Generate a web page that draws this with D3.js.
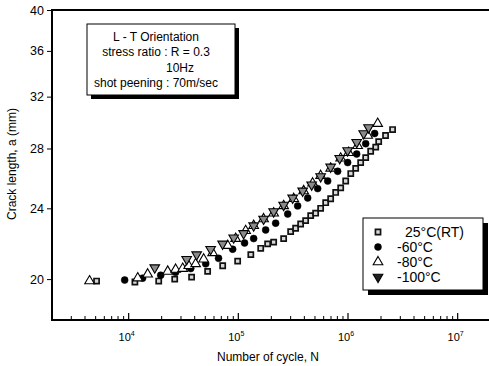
<!DOCTYPE html>
<html>
<head>
<meta charset="utf-8">
<script src="https://cdn.jsdelivr.net/npm/d3@7/dist/d3.min.js"></script>
<style>
  body { margin: 0; background: #fff; }
  svg text { font-family: Arial, "Liberation Sans", sans-serif; fill: #000; }
</style>
</head>
<body>
<div id="chart"></div>
<script>
// series: cycles N and crack length a (mm)
const seriesNames = ['25°C(RT)', '-60°C', '-80°C', '-100°C'];

const rtCycles = [5100, 11400, 18800, 26300, 37500, 52500, 72000, 98600, 130000, 160000, 185000, 210000, 259000, 300000, 333000, 370000, 411000, 457000, 507000, 563000, 626000, 695000, 772000, 858000, 953000, 1060000, 1175000, 1305000, 1450000, 1610000, 1790000, 1905000, 2200000, 2550000];
const rtLength = [19.9, 19.85, 19.9, 20.0, 20.1, 20.4, 20.7, 20.95, 21.3, 21.65, 21.9, 22.0, 22.2, 22.6, 22.8, 23.05, 23.25, 23.55, 23.7, 24.0, 24.35, 24.6, 25.0, 25.3, 25.75, 26.25, 26.6, 27.0, 27.35, 27.8, 28.1, 28.5, 28.95, 29.4];

const m60Cycles = [9200, 13400, 19600, 26800, 36800, 50400, 66000, 88800, 114000, 138000, 177500, 219000, 282000, 347500, 429000, 529000, 653000, 805000, 993000, 1200000, 1450000, 1750000];
const m60Length = [19.95, 20.05, 20.2, 20.35, 20.55, 20.8, 21.1, 21.6, 21.95, 22.2, 22.7, 23.1, 23.65, 24.15, 24.65, 25.25, 25.75, 26.4, 27.0, 27.6, 28.35, 29.1];

const m80Cycles = [4400, 12100, 14900, 22700, 26800, 31100, 35300, 40800, 48300, 58300, 80000, 94500, 116600, 138000, 170000, 210000, 259000, 320000, 394000, 476000, 563000, 695000, 857000, 1014000, 1225000, 1512000, 1865000];
const m80Length = [19.9, 20.05, 20.25, 20.4, 20.5, 20.55, 20.7, 20.8, 21.05, 21.4, 21.8, 22.2, 22.65, 22.95, 23.35, 23.7, 24.15, 24.6, 25.1, 25.6, 26.1, 26.6, 27.3, 27.7, 28.2, 28.95, 29.85];

const m100Cycles = [17300, 33800, 41700, 55900, 71900, 90700, 111800, 138000, 170000, 210000, 259000, 313000, 386000, 466000, 563000, 695000, 840000, 993000, 1200000, 1390000, 1540000];
const m100Length = [20.6, 21.05, 21.3, 21.6, 21.9, 22.25, 22.5, 22.95, 23.35, 23.8, 24.2, 24.65, 25.1, 25.5, 26.05, 26.7, 27.3, 27.85, 28.45, 29.1, 29.55];

const yTicks = [20, 24, 28, 32, 36, 40];
const xDecades = [1e4, 1e5, 1e6, 1e7];
const infoLines = ['L - T Orientation', 'stress ratio : R = 0.3', '10Hz', 'shot peening : 70m/sec'];

const width = 489, height = 366;
const plotLeft = 52, plotTop = 10, plotBottom = 320;

const svg = d3.select('#chart').append('svg')
  .attr('width', width)
  .attr('height', height);

const x = d3.scaleLog().domain([2000, 2e7]).range([plotLeft, plotLeft + 4 * 109.67]);
const y = d3.scaleLog().domain([18, 40]).range([plotBottom, plotTop]);

// marker styles per series
const markers = [
  { type: d3.symbolSquare, size: 26, fill: '#d8d8d8', stroke: '#111', sw: 1.7, rot: 0 },
  { type: d3.symbolCircle, size: 38, fill: '#000', stroke: '#000', sw: 0.5, rot: 0 },
  { type: d3.symbolTriangle, size: 40, fill: '#fff', stroke: '#000', sw: 1.1, rot: 0 },
  { type: d3.symbolTriangle, size: 40, fill: '#8a8a8a', stroke: '#000', sw: 1.1, rot: 180 }
];

const data = [
  d3.zip(rtCycles, rtLength),
  d3.zip(m60Cycles, m60Length),
  d3.zip(m80Cycles, m80Length),
  d3.zip(m100Cycles, m100Length)
];

// frame
svg.append('line').attr('x1', plotLeft).attr('x2', width).attr('y1', plotTop).attr('y2', plotTop)
  .attr('stroke', '#000').attr('stroke-width', 2);
svg.append('line').attr('x1', plotLeft).attr('x2', plotLeft).attr('y1', plotTop - 1).attr('y2', plotBottom + 1)
  .attr('stroke', '#000').attr('stroke-width', 2);
svg.append('line').attr('x1', plotLeft).attr('x2', width).attr('y1', plotBottom).attr('y2', plotBottom)
  .attr('stroke', '#000').attr('stroke-width', 2);

// y axis
const yAxis = svg.append('g')
  .attr('transform', `translate(${plotLeft},0)`)
  .call(d3.axisLeft(y).tickValues(yTicks).tickFormat(d3.format('d')).tickSize(5).tickPadding(3));
yAxis.select('.domain').remove();
yAxis.selectAll('text').style('font-size', '12.5px').style('font-family', 'Arial, "Liberation Sans", sans-serif');

// x axis: ticks inside, minor at 2..9
const minor = [];
for (let e = 3; e <= 7; e++) {
  for (let k = 2; k <= 9; k++) {
    const v = k * Math.pow(10, e);
    if (v > 2000 && v < 2e7) minor.push(v);
  }
}
svg.append('g').selectAll('line.minor')
  .data(minor)
  .enter().append('line')
  .attr('x1', d => x(d)).attr('x2', d => x(d))
  .attr('y1', plotBottom).attr('y2', plotBottom - 4)
  .attr('stroke', '#000').attr('stroke-width', 1);
svg.append('g').selectAll('line.major')
  .data(xDecades)
  .enter().append('line')
  .attr('x1', d => x(d)).attr('x2', d => x(d))
  .attr('y1', plotBottom).attr('y2', plotBottom - 7)
  .attr('stroke', '#000').attr('stroke-width', 1.2);

const xLab = svg.append('g').selectAll('text.xl')
  .data(xDecades)
  .enter().append('text')
  .attr('x', d => x(d) - 2)
  .attr('y', 341)
  .attr('text-anchor', 'middle')
  .style('font-size', '11px');
xLab.append('tspan').text('10');
xLab.append('tspan')
  .attr('dy', -5)
  .style('font-size', '7px')
  .text(d => Math.round(Math.log10(d)));

// axis titles
svg.append('text')
  .attr('x', 268).attr('y', 361)
  .attr('text-anchor', 'middle')
  .style('font-size', '12px')
  .text('Number of cycle, N');

svg.append('text')
  .attr('transform', 'translate(16,164) rotate(-90)')
  .attr('text-anchor', 'middle')
  .style('font-size', '12px')
  .text('Crack length, a (mm)');

// points
data.forEach((pts, i) => {
  const m = markers[i];
  svg.append('g').selectAll('path')
    .data(pts)
    .enter().append('path')
    .attr('d', d3.symbol().type(m.type).size(m.size))
    .attr('transform', d => `translate(${x(d[0])},${y(d[1])}) rotate(${m.rot})`)
    .attr('fill', m.fill)
    .attr('stroke', m.stroke)
    .attr('stroke-width', m.sw);
});

// info box with shadow
const info = svg.append('g');
info.append('rect').attr('x', 91).attr('y', 28).attr('width', 148).attr('height', 71).attr('fill', '#000');
info.append('rect').attr('x', 87).attr('y', 24).attr('width', 148).attr('height', 71)
  .attr('fill', '#fff').attr('stroke', '#000').attr('stroke-width', 1);
info.selectAll('text')
  .data(infoLines)
  .enter().append('text')
  .attr('x', (d, i) => i === 2 ? 180 : 156)
  .attr('y', (d, i) => 41 + i * 15.3)
  .attr('text-anchor', 'middle')
  .style('font-size', '12px')
  .text(d => d);

// legend with shadow
const legend = svg.append('g');
legend.append('rect').attr('x', 368).attr('y', 223).attr('width', 120).attr('height', 72).attr('fill', '#000');
legend.append('rect').attr('x', 363).attr('y', 218).attr('width', 120).attr('height', 72)
  .attr('fill', '#fff').attr('stroke', '#000').attr('stroke-width', 1);
seriesNames.forEach((name, i) => {
  const m = markers[i];
  const ly = 232 + i * 15;
  legend.append('path')
    .attr('d', d3.symbol().type(m.type).size(m.size))
    .attr('transform', `translate(378,${ly}) rotate(${m.rot})`)
    .attr('fill', i === 3 ? '#222' : m.fill)
    .attr('stroke', m.stroke)
    .attr('stroke-width', m.sw);
  legend.append('text')
    .attr('x', i === 0 ? 405 : 397)
    .attr('y', ly + 5)
    .style('font-size', '14px')
    .text(name);
});
</script>
</body>
</html>
